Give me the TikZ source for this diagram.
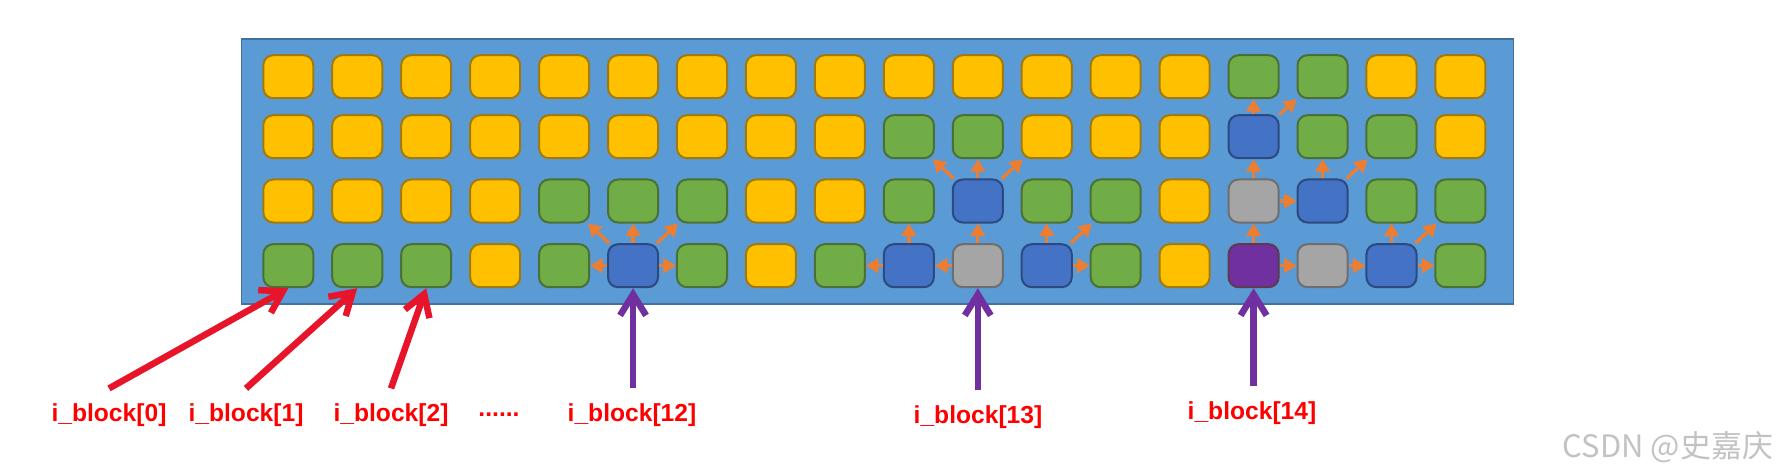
\documentclass[tikz,border=0pt]{standalone}
\usepackage{fontspec}
\setmainfont{Liberation Sans}
\newfontfamily\cjkfont{Noto Sans CJK SC}
\usepackage{tikz}
\usetikzlibrary{arrows.meta, positioning}

\definecolor{diskblue}{HTML}{5B9BD5}
\definecolor{diskedge}{HTML}{41719C}
\definecolor{freefill}{HTML}{FFC000}
\definecolor{freeedge}{HTML}{A07A10}
\definecolor{datafill}{HTML}{70AD47}
\definecolor{dataedge}{HTML}{4B7033}
\definecolor{indfill}{HTML}{4472C4}
\definecolor{indedge}{HTML}{2C4A80}
\definecolor{dindfill}{HTML}{A5A5A5}
\definecolor{dindedge}{HTML}{6E6E6E}
\definecolor{tindfill}{HTML}{7030A0}
\definecolor{tindedge}{HTML}{5E3A50}
\definecolor{hopcol}{HTML}{ED7D31}
\definecolor{ptrred}{HTML}{E8142A}
\definecolor{ptrpurple}{HTML}{7030A0}

\begin{document}
\begin{tikzpicture}[x=0.01cm, y=-0.01cm, semithick]
	\tikzstyle{block} = [draw, line width=0.2mm, rounded corners=1mm, minimum width=5mm, minimum height=4.3mm, inner sep=0pt]
	\tikzstyle{blkfree} = [block, fill=freefill, draw=freeedge]
	\tikzstyle{blkdata} = [block, fill=datafill, draw=dataedge]
	\tikzstyle{blkind} = [block, fill=indfill, draw=indedge]
	\tikzstyle{blkdind} = [block, fill=dindfill, draw=dindedge]
	\tikzstyle{blktind} = [block, fill=tindfill, draw=tindedge]
	\tikzstyle{hop} = [color=hopcol, line width=0.33mm, -{Triangle[length=1.25mm, width=1.45mm]}]
	\tikzstyle{ptr} = [line width=0.65mm, -{Straight Barb[length=2.1mm, width=2.6mm]}]
	\tikzstyle{redptr} = [ptr, draw=ptrred]
	\tikzstyle{purptr} = [ptr, draw=ptrpurple]
	\tikzstyle{idx} = [text=red, inner xsep=0pt, inner ysep=4pt, font={\bfseries\fontsize{7pt}{8pt}\selectfont}]

	\useasboundingbox (0,0) rectangle (1787,476);

	% the disk area
	\node[draw=diskedge, fill=diskblue, line width=0.15mm, minimum width=12.71cm, minimum height=2.65cm] (disk) at (877.5,171.5) {};

	% block grid, four rows of 18
	\foreach \k [count=\i from 0] in {free,free,free,free,free,free,free,free,free,free,free,free,free,free,data,data,free,free}
		\node[blk\k] (r1c\i) at ({288.3+68.95*\i},76.7) {};
	\foreach \k [count=\i from 0] in {free,free,free,free,free,free,free,free,free,data,data,free,free,free,ind,data,data,free}
		\node[blk\k] (r2c\i) at ({288.3+68.95*\i},136.7) {};
	\foreach \k [count=\i from 0] in {free,free,free,free,data,data,data,free,free,data,ind,data,data,free,dind,ind,data,data}
		\node[blk\k] (r3c\i) at ({288.3+68.95*\i},201) {};
	\foreach \k [count=\i from 0] in {data,data,data,free,data,ind,data,free,data,ind,dind,ind,data,free,tind,dind,ind,data}
		\node[blk\k] (r4c\i) at ({288.3+68.95*\i},265.7) {};

	% indirection hops
	\path[hop]
	(r4c5) edge (r4c4) edge (r4c6) edge (r3c4) edge (r3c5) edge (r3c6)
	(r4c9) edge (r4c8) edge (r3c9)
	(r4c10) edge (r4c9) edge (r3c10)
	(r3c10) edge (r2c9) edge (r2c10) edge (r2c11)
	(r4c11) edge (r3c11) edge (r3c12) edge (r4c12)
	(r4c14) edge (r4c15) edge (r3c14)
	(r4c15) edge (r4c16)
	(r4c16) edge (r4c17) edge (r3c16) edge (r3c17)
	(r3c14) edge (r3c15) edge (r2c14)
	(r3c15) edge (r2c15) edge (r2c16)
	(r2c14) edge (r1c14) edge (r1c15);

	% i_block entries
	\node[idx] (ib0) at (109,415) {i\_block[0]};
	\node[idx] (ib1) at (246,415) {i\_block[1]};
	\node[idx] (ib2) at (391,415) {i\_block[2]};
	\node[idx] (idots) at (499,415) {......};
	\node[idx] (ib12) at (632,415) {i\_block[12]};
	\node[idx] (ib13) at (978,417) {i\_block[13]};
	\node[idx] (ib14) at (1252,413) {i\_block[14]};

	\draw[redptr] (ib0.north) -- (r4c0.south);
	\draw[redptr] (ib1.north) -- (r4c1.south);
	\draw[redptr] (ib2.north) -- (r4c2.south);
	\draw[purptr] (r4c5.south |- ib12.north) -- (r4c5.south);
	\draw[purptr] (r4c10.south |- ib13.north) -- (r4c10.south);
	\draw[purptr] (r4c14.south |- ib14.north) -- (r4c14.south);

	\node[text=black!24, font={\cjkfont\fontsize{8.8pt}{10pt}\selectfont}] (mark) at (1668,447) {CSDN @史嘉庆};
\end{tikzpicture}
\end{document}
